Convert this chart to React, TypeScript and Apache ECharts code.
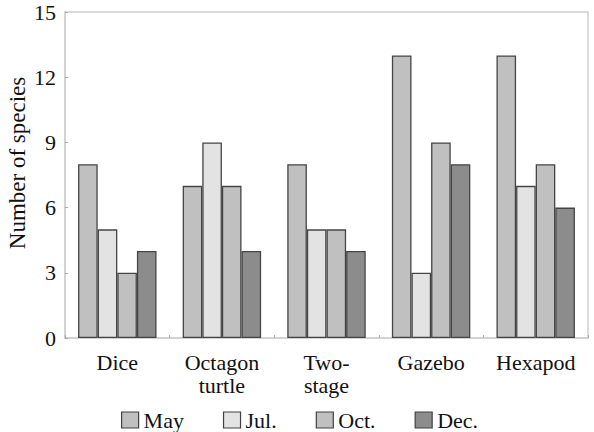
import React, { useEffect, useRef } from "react";
import * as echarts from "echarts";

const categories = ["Dice", "Octagon\nturtle", "Two-\nstage", "Gazebo", "Hexapod"];
const seriesNames = ["May", "Jul.", "Oct.", "Dec."];
const mayValues = [8, 7, 8, 13, 13];
const julValues = [5, 9, 5, 3, 7];
const octValues = [3, 7, 5, 9, 8];
const decValues = [4, 4, 4, 8, 6];
const yTicks = [0, 3, 6, 9, 12, 15];
const yAxisTitle = "Number of species";

const colors = ["#c0c0c0", "#e3e3e3", "#c0c0c0", "#8c8c8c"];

export default function App() {
  const ref = useRef<HTMLDivElement>(null);
  useEffect(() => {
    if (!ref.current) return;
    const chart = echarts.init(ref.current, undefined, { renderer: "svg" });
    const font = "Liberation Serif";
    const data = [mayValues, julValues, octValues, decValues];
    chart.setOption({
      animation: false,
      textStyle: { fontFamily: font },
      grid: {
        left: 65,
        right: 6,
        top: 12,
        bottom: 94,
        show: true,
        borderColor: "#d0d0d0",
        borderWidth: 1.5,
      },
      legend: {
        top: 409,
        left: 121,
        padding: 0,
        itemWidth: 17,
        itemHeight: 16,
        itemGap: 39,
        icon: "rect",
        data: seriesNames,
        textStyle: { fontFamily: font, fontSize: 22, color: "#111" },
        itemStyle: { borderColor: "#404040", borderWidth: 1.2 },
      },
      graphic: [
        {
          type: "text",
          x: 17,
          y: 163,
          rotation: Math.PI / 2,
          style: {
            text: yAxisTitle,
            fontFamily: font,
            fontSize: 23,
            fill: "#111",
            textAlign: "center",
            textVerticalAlign: "middle",
          },
        },
      ],
      xAxis: {
        type: "category",
        data: categories,
        axisLine: { lineStyle: { color: "#d0d0d0", width: 1.5 } },
        axisTick: { show: true, inside: true, length: 3, lineStyle: { color: "#aaa" } },
        axisLabel: { fontFamily: font, fontSize: 22, color: "#111", margin: 13, lineHeight: 23 },
      },
      yAxis: {
        type: "value",
        min: yTicks[0],
        max: yTicks[yTicks.length - 1],
        interval: 3,
        axisLine: { show: true, lineStyle: { color: "#d0d0d0", width: 1.5 } },
        axisTick: { show: true, inside: true, length: 3, lineStyle: { color: "#aaa" } },
        splitLine: { show: false },
        axisLabel: { fontFamily: font, fontSize: 22, color: "#111", margin: 9, padding: [4, 0, 0, 0] },
      },
      series: seriesNames.map((name, i) => ({
        name,
        type: "bar",
        data: data[i],
        barGap: "0%",
        barCategoryGap: "25%",
        itemStyle: { color: colors[i], borderColor: "#454545", borderWidth: 1.3 },
      })),
    });
    return () => chart.dispose();
  }, []);
  return (
    <div
      ref={ref}
      style={{ position: "absolute", left: 0, top: 0, width: 594, height: 432 }}
    />
  );
}
